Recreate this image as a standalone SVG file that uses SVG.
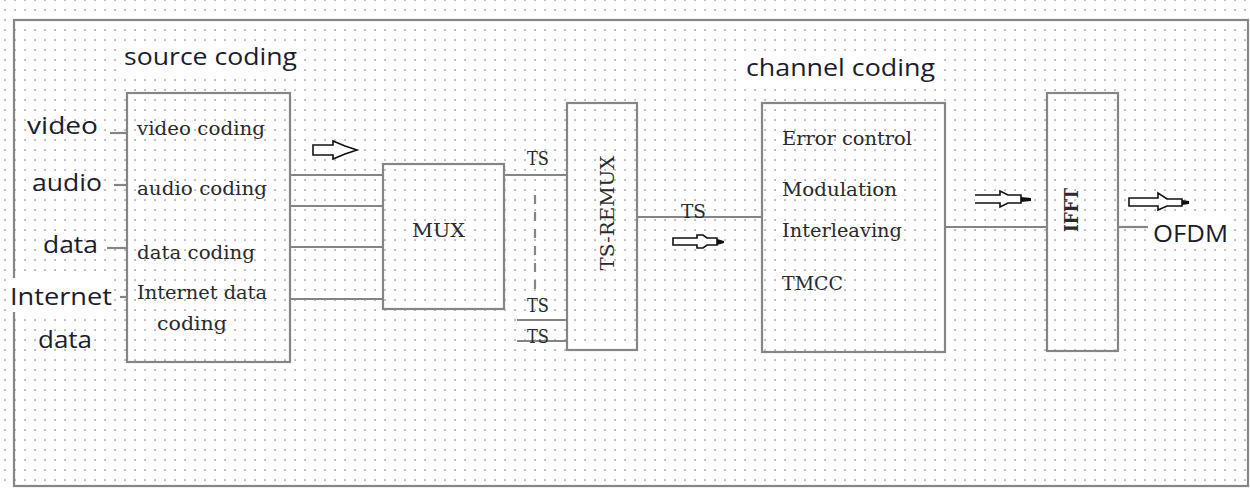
<svg xmlns="http://www.w3.org/2000/svg" width="1250" height="489" viewBox="0 0 1250 489">
  <defs>
    <pattern id="dots" patternUnits="userSpaceOnUse" x="0" y="5" width="10" height="10">
      <rect x="4.2" y="4.2" width="1.7" height="1.7" fill="#a9a9a9"/>
    </pattern>
  </defs>
  <style>
    .box{fill:none;stroke:#858585;stroke-width:2.2}
    .ln{fill:none;stroke:#858585;stroke-width:2.2}
    .sans{font-family:"Open Sans","Noto Sans","DejaVu Sans",sans-serif;font-size:23px;fill:#1c1c2c}
    .serif{font-family:"DejaVu Serif","Liberation Serif",serif;font-size:19px;fill:#2a2a2a}
    .arr{fill:#fff;stroke:#111;stroke-width:1.6;stroke-linejoin:miter}
    .tip{fill:#111}
    .bg{fill:#fff}
  </style>
  <rect width="1250" height="489" fill="#fff"/>
  <rect width="1250" height="489" fill="url(#dots)"/>

  <!-- outer frame -->
  <rect id="frame" class="box" x="14" y="20" width="1234" height="466"/>

  <!-- label backgrounds -->
  <rect class="bg" x="118" y="42" width="184" height="30"/>
  <rect class="bg" x="740" y="52" width="200" height="30"/>
  <rect class="bg" x="8" y="278" width="106" height="34"/>
  <rect class="bg" x="1150" y="218" width="82" height="30"/>

  <!-- input labels -->
  <g id="inputs">
    <text class="sans" x="27" y="134" textLength="71" lengthAdjust="spacingAndGlyphs">video</text>
    <text class="sans" x="32" y="191" textLength="70" lengthAdjust="spacingAndGlyphs">audio</text>
    <text class="sans" x="43" y="253" textLength="55" lengthAdjust="spacingAndGlyphs">data</text>
    <text class="sans" x="10" y="305" textLength="102" lengthAdjust="spacingAndGlyphs">Internet</text>
    <text class="sans" x="38" y="348" textLength="54" lengthAdjust="spacingAndGlyphs">data</text>
  </g>

  <!-- connectors -->
  <g id="connectors">
    <line class="ln" x1="110" y1="133" x2="127" y2="133"/>
    <line class="ln" x1="114" y1="185" x2="127" y2="185"/>
    <line class="ln" x1="107" y1="248" x2="127" y2="248"/>
    <line class="ln" x1="120" y1="297" x2="127" y2="297"/>
    <line class="ln" x1="290" y1="175" x2="383" y2="175"/>
    <line class="ln" x1="290" y1="206" x2="383" y2="206"/>
    <line class="ln" x1="290" y1="247" x2="383" y2="247"/>
    <line class="ln" x1="290" y1="299" x2="383" y2="299"/>
    <line class="ln" x1="504" y1="175" x2="567" y2="175"/>
    <line class="ln" x1="535" y1="195" x2="535" y2="293" stroke-dasharray="9,8"/>
    <line class="ln" x1="517" y1="320" x2="567" y2="320"/>
    <line class="ln" x1="517" y1="341" x2="567" y2="341"/>
    <line class="ln" x1="637" y1="217" x2="762" y2="217"/>
    <line class="ln" x1="945" y1="227" x2="1047" y2="227"/>
    <line class="ln" x1="1118" y1="227" x2="1148" y2="227"/>
    <path class="arr" d="M313,145 H333 V141 L345,146 L357,150 L345,154 L333,159 V155 H313 Z"/>
    <path class="arr" d="M673,238 H697 V235 H703 L707,238 H717 V245 H707 L703,248 H697 V245 H673 Z"/>
    <path class="tip" d="M717,239 L724,241 L724,243 L717,245 Z"/>
    <path class="arr" d="M975,195 H1000 V191 L1008,195 H1021 V203 H1008 L1000,207 V203 H975"/>
    <path class="tip" d="M1021,197 L1031,198 L1031,201 L1021,202 Z"/>
    <path class="arr" d="M1129,198 H1158 V193 L1167,199 H1182 V206 H1167 L1158,210 V206 H1129 Z"/>
    <path class="tip" d="M1182,200 L1189,201 L1189,204 L1182,205 Z"/>
    <text class="serif" x="527" y="165" textLength="22" lengthAdjust="spacingAndGlyphs">TS</text>
    <text class="serif" x="527" y="312" textLength="22" lengthAdjust="spacingAndGlyphs">TS</text>
    <text class="serif" x="527" y="343" textLength="22" lengthAdjust="spacingAndGlyphs">TS</text>
    <text class="serif" x="681" y="218" textLength="25" lengthAdjust="spacingAndGlyphs">TS</text>
  </g>

  <!-- source coding -->
  <g id="source">
    <text class="sans" x="124" y="65" textLength="173" lengthAdjust="spacingAndGlyphs">source coding</text>
    <rect class="box" x="127" y="93" width="163" height="269"/>
    <text class="serif" x="137" y="135" textLength="128" lengthAdjust="spacingAndGlyphs">video coding</text>
    <text class="serif" x="137" y="195" textLength="130" lengthAdjust="spacingAndGlyphs">audio coding</text>
    <text class="serif" x="137" y="259" textLength="118" lengthAdjust="spacingAndGlyphs">data coding</text>
    <text class="serif" x="137" y="299" textLength="130" lengthAdjust="spacingAndGlyphs">Internet data</text>
    <text class="serif" x="157" y="330" textLength="70" lengthAdjust="spacingAndGlyphs">coding</text>
  </g>

  <!-- MUX -->
  <g id="mux">
    <rect class="box" x="383" y="164" width="121" height="145"/>
    <text class="serif" x="412" y="237" textLength="53" lengthAdjust="spacingAndGlyphs">MUX</text>
  </g>

  <!-- TS-REMUX -->
  <g id="tsremux">
    <rect class="box" x="567" y="103" width="70" height="247"/>
    <text class="serif" transform="translate(614,213) rotate(-90)" x="0" y="0" text-anchor="middle" textLength="115" lengthAdjust="spacingAndGlyphs">TS-REMUX</text>
  </g>

  <!-- channel coding -->
  <g id="channel">
    <text class="sans" x="746" y="76" textLength="189" lengthAdjust="spacingAndGlyphs">channel coding</text>
    <rect class="box" x="762" y="103" width="183" height="249"/>
    <text class="serif" x="782" y="145" textLength="130" lengthAdjust="spacingAndGlyphs">Error control</text>
    <text class="serif" x="782" y="196" textLength="115" lengthAdjust="spacingAndGlyphs">Modulation</text>
    <text class="serif" x="782" y="237" textLength="120" lengthAdjust="spacingAndGlyphs">Interleaving</text>
    <text class="serif" x="782" y="290" textLength="61" lengthAdjust="spacingAndGlyphs">TMCC</text>
  </g>

  <!-- IFFT -->
  <g id="ifft">
    <rect class="box" x="1047" y="93" width="71" height="258"/>
    <text class="serif" transform="translate(1078,210) rotate(-90)" x="0" y="0" text-anchor="middle" font-weight="bold" textLength="44" lengthAdjust="spacingAndGlyphs">IFFT</text>
  </g>

  <!-- output -->
  <g id="output">
    <text class="sans" x="1153" y="242" textLength="75" lengthAdjust="spacingAndGlyphs">OFDM</text>
  </g>
</svg>
